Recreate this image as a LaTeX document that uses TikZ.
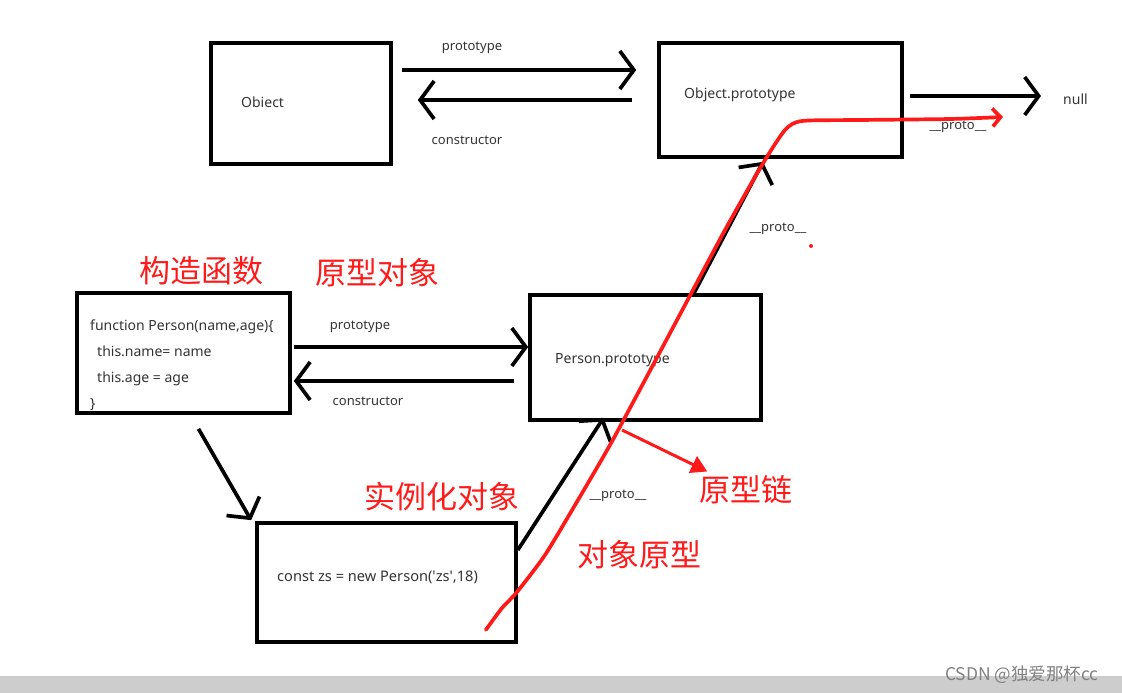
\documentclass[tikz,border=0pt]{standalone}
\usepackage{fontspec}
\setmainfont{Noto Sans}
\newfontfamily\cjk{Noto Sans CJK SC}
\usetikzlibrary{arrows.meta, positioning, calc}
\definecolor{txt}{HTML}{333333}
\definecolor{redink}{HTML}{FF1A1A}
\definecolor{band}{HTML}{CDCDCD}

\tikzset{
  box/.style={draw, line width=3.7pt, inner sep=0pt},
  link/.style={line width=3.7pt, -{Straight Barb[length=14pt,width=38pt]}},
  lbl/.style={text=txt, font=\fontsize{13}{15}\selectfont, inner sep=0pt},
  code/.style={text=txt, font=\fontsize{14}{16}\selectfont, inner sep=0pt, anchor=west},
  note/.style={text=redink, font=\cjk\fontsize{31}{33}\selectfont, inner sep=0pt},
}

\begin{document}
\begin{tikzpicture}[x=1pt, y=-1pt]
    \useasboundingbox (0,0) rectangle (1122,693);
    % Bottom band
    \fill[band] (0,676) rectangle (1122,693);
    \node[text=gray, font=\cjk\fontsize{17.5}{19}\selectfont, inner sep=0pt] (wm) at (1022,675) {CSDN @独爱那杯cc};

    % Boxes
    \node[box, minimum width=180pt, minimum height=121pt] (obj) at (301,103.5) {};
    \node[box, minimum width=243pt, minimum height=114pt] (objproto) at (780.5,100) {};
    \node[box, minimum width=213pt, minimum height=120pt] (person) at (183.5,353) {};
    \node[box, minimum width=231pt, minimum height=125pt] (personproto) at (645.5,357.5) {};
    \node[box, minimum width=259pt, minimum height=119pt] (zs) at (386.5,582.5) {};

    % Box texts
    \node[code] (objtxt) at (241,102) {Obiect};
    \node[code] (objprototxt) at (684,95) {Object.prototype};
    \node[code, align=left, anchor=north west, font=\fontsize{14}{25.7}\selectfont] (persontxt) at (90,320)
      {function Person(name,age)\{\\\hspace*{0.5em}this.name= name\\\hspace*{0.5em}this.age = age\\\}};
    \node[code] (personprototxt) at (555,360) {Person.prototype};
    \node[code, font=\fontsize{14.6}{16}\selectfont] (zstxt) at (277,577) {const zs = new Person(\textquotesingle zs\textquotesingle,18)};
    \node[code] (null) at (1063,99) {null};

    % Object <-> Object.prototype
    \draw[link] ($(obj.east)+(9,-33.5)$) -- ($(objproto.west)+(-21,-30)$);
    \draw[link] ($(objproto.west)+(-25,0)$) -- ($(obj.east)+(25,-3.5)$);
    \node[lbl] (lproto1) at (472,48) {prototype};
    \node[lbl] (lcons1) at (467,140) {constructor};
    \draw[link] ($(objproto.east)+(6,-4)$) -- ($(null.west)+(-22,-3)$);

    % Person <-> Person.prototype
    \draw[link] ($(person.east)+(2,-6)$) -- ($(personproto.west)+(0,-10.5)$);
    \draw[link] ($(personproto.west)+(-14,23.5)$) -- ($(person.east)+(2,28)$);
    \node[lbl] (lproto2) at (360,327) {prototype};
    \node[lbl] (lcons2) at (368,401) {constructor};

    % new, __proto__ links
    \draw[link] ($(person.south)+(15,14)$) -- ($(zs.north west)+(-4,-1)$);
    \draw[link] ($(zs.east)+(0,-32.5)$) -- ($(personproto.south)+(-42,-4)$);
    \draw[link] ($(personproto.north)+(48.5,0)$) -- ($(objproto.south)+(-17.5,3)$);
    \node[lbl] (lp1) at (958,127) {\_\_proto\_\_};
    \node[lbl] (lp2) at (778,229) {\_\_proto\_\_};
    \node[lbl] (lp3) at (618,496) {\_\_proto\_\_};

    % Red notes
    \node[note] (ctor) at (201,271) {构造函数};
    \node[note] (protoobj) at (377,273) {原型对象};
    \node[note] (inst) at (442,497) {实例化对象};
    \node[note] (objp) at (639,555) {对象原型};
    \node[note] (chain) at (746,490) {原型链};

    % Chain
    \coordinate (c0) at ($(zs.south east)+(-32,-14)$);
    \coordinate (c1) at ($(null.west)+(-60,18)$);
    \draw[redink, line width=3.7pt, line cap=round, line join=round, -{Straight Barb[length=8pt,width=18pt]}]
      plot[smooth, tension=0.4] coordinates {(c0) (502,608) (517,592) (545,555) (578,500) (610,445)
        (645,380) (685,305) (725,230) (762,165) (785,130) (802,121) (860,120) (950,119) (c1)};
    \draw[redink, line width=3pt, -{Triangle[length=16pt,width=18pt]}] (622,430) -- ($(chain.north west)+(8,-4)$);
    \fill[redink] (811,246) circle (2);
\end{tikzpicture}
\end{document}
